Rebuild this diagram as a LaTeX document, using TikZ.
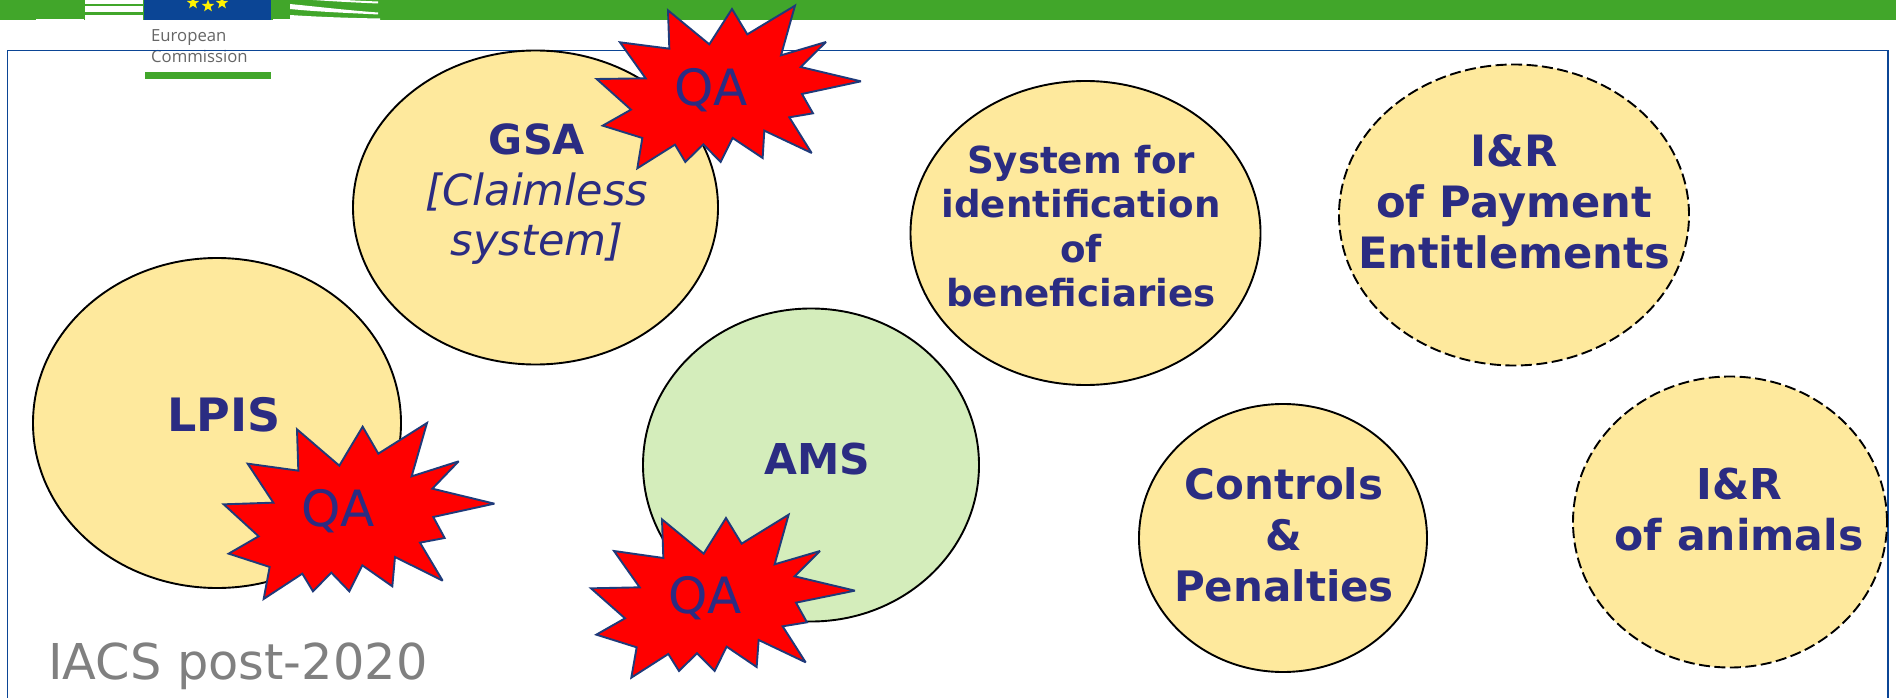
\documentclass[tikz,border=0pt]{standalone}
\usepackage{fontspec}
\setmainfont{DejaVu Sans}
\newfontfamily\ecfont{Open Sans}
\usetikzlibrary{shapes.geometric}
\definecolor{ecgreen}{HTML}{41A62A}
\definecolor{ecblue}{HTML}{0B4595}
\definecolor{navy}{HTML}{2B2C82}
\definecolor{starline}{HTML}{1F3A7A}
\definecolor{sand}{HTML}{FEE99D}
\definecolor{leaf}{HTML}{D4EDBB}
\tikzset{
  blob/.style={ellipse,draw=black,line width=1.9pt,fill=sand,inner sep=0pt,minimum width=2*#1},
  dashblob/.style={dash pattern=on 11pt off 4.5pt},
  burst/.style={fill=red,draw=starline,line width=1.9pt,line join=miter,miter limit=3,x=0.3333pt,y=-0.3333pt},
  lbl/.style={text=navy,font=\bfseries\fontsize{40}{46}\selectfont,align=center},
  qa/.style={text=navy,font=\fontsize{50}{54}\selectfont},
}
\begin{document}
\begin{tikzpicture}[x=1pt,y=-1pt]
\useasboundingbox (0,0) rectangle (1896,698);
\fill[white] (0,0) rectangle (1896,698);
% header
\fill[ecgreen] (0,0) rectangle (1896,20);
\fill[white] (36,19) rectangle (84,20);
\fill[white] (85,0) rectangle (143,4);
\fill[white] (85,6.5) rectangle (143,12.5);
\fill[white] (85,15.5) rectangle (143,20);
\fill[white] (290,4) .. controls (320,7) and (350,10.5) .. (378,12.5) -- (378,14.5) .. controls (350,13) and (320,12) .. (290,9) -- cycle;
\fill[white] (313,0) .. controls (335,1.5) and (355,2.5) .. (378,3.5) -- (378,1.5) .. controls (365,1) and (355,0.5) .. (345,0) -- cycle;
\fill[white] (290,15) .. controls (320,17) and (350,18) .. (380,18.5) -- (380,20) -- (290,20) -- cycle;
\fill[white] (273,19) rectangle (290,20);
\fill[ecblue] (144,0) rectangle (271,20);
\foreach \p in {(193,3),(208,6),(222,3)} \node[star,star points=5,star point ratio=2.4,fill=yellow,inner sep=0pt,minimum size=13pt] at \p {};
\node[text=black!60,font=\ecfont\fontsize{16.7}{21}\selectfont,align=left,anchor=north west,inner sep=0pt] (ec) at (151,29) {European\\Commission};
\fill[ecgreen] (145,72) rectangle (271,79.5);
% frame
\draw[ecblue,line width=1.6pt] (7.5,50.5) -- (1888,50.5) (7.5,50.5) -- (7.5,698) (1888,50.5) -- (1888,698);
% ellipses
\node[blob=182.5pt,minimum height=314pt] (gsa) at (535.5,207.5) {};
\node[blob=184pt,minimum height=330pt] (lpis) at (217,423) {};
\node[blob=168pt,minimum height=313pt,fill=leaf] (ams) at (811,465) {};
\node[blob=175pt,minimum height=304pt] (sys) at (1085.5,233) {};
\node[blob=175pt,minimum height=301pt,dashblob] (pe) at (1514,215) {};
\node[blob=144pt,minimum height=268pt] (ctl) at (1283,538) {};
\node[blob=157pt,minimum height=291pt,dashblob] (ani) at (1730,522) {};
% labels
\node[lbl,font=\bfseries\fontsize{41.5}{46}\selectfont] (gsat) at (537,139) {GSA};
\node[text=navy,font=\itshape\fontsize{43}{50}\selectfont,align=center] (gsai) at (537,219) {[Claimless\\system]};
\node[lbl,font=\bfseries\fontsize{46}{50}\selectfont] (lpist) at (224,415) {LPIS};
\node[lbl,font=\bfseries\fontsize{42.5}{46}\selectfont] (amst) at (817,459) {AMS};
\node[lbl,font=\bfseries\fontsize{37.2}{44.5}\selectfont] (syst) at (1081,226) {System for\\identification\\of\\beneficiaries};
\node[lbl,font=\bfseries\fontsize{43.2}{51}\selectfont] (pet) at (1514,202) {I\&R\\of Payment\\Entitlements};
\node[lbl,font=\bfseries\fontsize{42}{51}\selectfont] (ctlt) at (1284,535) {Controls\\\&\\Penalties};
\node[lbl,font=\bfseries\fontsize{42.5}{51}\selectfont] (anit) at (1739,510) {I\&R\\of animals};
% bursts
\draw[burst,shift={(580pt,0pt)}] (50,237)--(197,235)--(120,127)--(268,146)--(264,31)--(388,133)--(456,27)--(502,103)--(645,17)--(603,166)--(738,126)--(662,201)--(843,244)--(666,282)--(699,340)--(628,352)--(695,459)--(553,392)--(548,474)--(458,414)--(422,486)--(370,433)--(316,486)--(285,434)--(172,505)--(187,414)--(68,377)--(153,329)--cycle;
\draw[burst,shift={(210pt,-410pt)}] (41,283)--(190,278)--(113,161)--(265,182)--(261,58)--(388,167)--(458,50)--(505,131)--(651,39)--(605,199)--(746,154)--(667,236)--(853,281)--(670,321)--(704,384)--(630,398)--(698,512)--(555,441)--(547,529)--(457,466)--(418,544)--(364,488)--(309,544)--(277,491)--(161,567)--(179,471)--(56,431)--(146,379)--cycle;
\draw[burst,shift={(580pt,-500pt)}] (33,265)--(179,262)--(102,153)--(250,174)--(246,58)--(371,161)--(438,54)--(485,131)--(626,44)--(584,193)--(720,153)--(644,229)--(825,272)--(648,308)--(681,367)--(608,379)--(677,487)--(536,420)--(530,501)--(440,440)--(404,513)--(351,460)--(297,513)--(265,462)--(154,533)--(170,442)--(49,404)--(135,355)--cycle;
\node[qa] (q1) at (711,90) {QA};
\node[qa] (q2) at (338,511) {QA};
\node[qa] (q3) at (705,598) {QA};
\node[text=black!50,font=\fontsize{49.4}{54}\selectfont,anchor=base west,inner sep=0pt] (ttl) at (48,679) {IACS post-2020};
\end{tikzpicture}
\end{document}
